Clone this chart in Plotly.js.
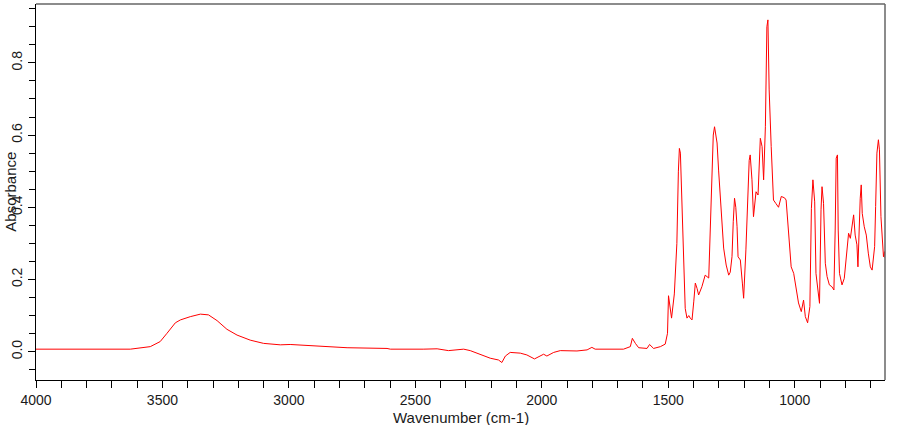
<!DOCTYPE html>
<html>
<head>
<meta charset="utf-8">
<script src="https://cdn.plot.ly/plotly-3.0.1.min.js"></script>
<style>html,body{margin:0;padding:0;background:#fff;}#chart{width:900px;height:425px;}</style>
</head>
<body>
<div id="chart"></div>
<script>
// Wavenumber (cm-1) and absorbance
const wavenumber = [4000,3904,3785,3627,3548,3509,3482,3449,3429,3390,3350,3318,3284,3245,3205,3153,3100,3034,2995,2902,2770,2612,2599,2469,2414,2369,2309,2283,2243,2204,2171,2158,2144,2125,2085,2059,2029,2006,1993,1980,1953,1927,1861,1821,1802,1789,1677,1650,1642,1630,1617,1584,1574,1558,1531,1512,1503,1499,1492,1487,1476,1466,1460,1456,1452,1446,1439,1433,1426,1419,1413,1406,1399,1393,1386,1380,1367,1354,1340,1334,1327,1322,1317,1307,1301,1290,1281,1271,1261,1255,1248,1243,1238,1233,1228,1224,1215,1207,1202,1193,1185,1180,1176,1169,1163,1153,1145,1136,1129,1123,1116,1110,1106,1101,1093,1084,1074,1064,1053,1040,1034,1027,1021,1014,1004,995,985,974,965,958,949,940,934,928,921,916,908,902,896,892,886,879,872,863,853,845,840,836,831,828,823,813,804,796,787,780,775,767,761,754,750,745,741,737,733,725,717,709,701,694,688,684,680,675,669,665,659,654,649,645,643];
const absorbance = [0.007,0.007,0.006,0.007,0.014,0.028,0.051,0.080,0.088,0.097,0.104,0.102,0.086,0.062,0.046,0.032,0.023,0.019,0.020,0.016,0.011,0.009,0.007,0.007,0.008,0.003,0.007,0.003,-0.007,-0.018,-0.023,-0.030,-0.012,-0.002,-0.004,-0.009,-0.020,-0.012,-0.007,-0.012,-0.002,0.003,0.002,0.005,0.012,0.007,0.007,0.014,0.037,0.023,0.011,0.009,0.020,0.009,0.014,0.021,0.051,0.155,0.121,0.093,0.160,0.300,0.500,0.563,0.550,0.420,0.263,0.120,0.093,0.100,0.093,0.088,0.140,0.190,0.175,0.157,0.180,0.212,0.204,0.350,0.512,0.600,0.623,0.578,0.503,0.365,0.287,0.240,0.212,0.220,0.263,0.360,0.425,0.400,0.346,0.263,0.254,0.190,0.148,0.282,0.476,0.530,0.545,0.476,0.374,0.443,0.434,0.591,0.568,0.476,0.623,0.900,0.919,0.725,0.568,0.420,0.410,0.400,0.430,0.426,0.420,0.346,0.282,0.235,0.217,0.171,0.135,0.111,0.143,0.097,0.080,0.125,0.397,0.476,0.415,0.217,0.162,0.134,0.393,0.457,0.411,0.245,0.208,0.185,0.180,0.171,0.337,0.536,0.545,0.337,0.217,0.185,0.203,0.254,0.328,0.314,0.346,0.379,0.323,0.296,0.235,0.379,0.425,0.462,0.383,0.346,0.323,0.273,0.235,0.226,0.273,0.291,0.402,0.550,0.587,0.559,0.374,0.309,0.263,0.277,0.260];
const xTitle = "Wavenumber (cm-1)";
const yTitle = "Absorbance";

const font = "Liberation Sans, Arial, sans-serif";
const trace = {
  x: wavenumber, y: absorbance, type: "scatter", mode: "lines",
  line: {color: "#ff0000", width: 1}, hoverinfo: "skip"
};
const layout = {
  width: 900, height: 425,
  margin: {l: 36, r: 15, t: 4, b: 45, pad: 0},
  paper_bgcolor: "#ffffff", plot_bgcolor: "#ffffff",
  showlegend: false,
  font: {family: font, size: 14, color: "#1a1a1a"},
  xaxis: {
    range: [4000, 643], autorange: false, automargin: false,
    tick0: 0, dtick: 500, ticks: "outside", ticklen: 7, tickcolor: "#000", tickwidth: 1,
    minor: {dtick: 100, ticks: "outside", ticklen: 7, tickcolor: "#000", tickwidth: 1, showgrid: false},
    showgrid: false, zeroline: false,
    showline: true, linecolor: "#000", linewidth: 1, mirror: false,
    tickfont: {family: font, size: 14, color: "#1a1a1a"}
  },
  yaxis: {
    range: [-0.0784, 0.963], autorange: false, automargin: false,
    tick0: 0, dtick: 0.2, tickformat: ".1f", ticks: "outside", ticklen: 7, tickcolor: "#000", tickwidth: 1,
    minor: {dtick: 0.05, ticks: "outside", ticklen: 6, tickcolor: "#000", tickwidth: 1, showgrid: false},
    tickangle: -90,
    showgrid: false, zeroline: false,
    showline: true, linecolor: "#000", linewidth: 1, mirror: false,
    tickfont: {family: font, size: 14, color: "#1a1a1a"}
  },
  shapes: [
    {type: "line", xref: "paper", yref: "paper", x0: 0, x1: 1, y0: 1, y1: 1, line: {color: "#666", width: 1.5}},
    {type: "line", xref: "paper", yref: "paper", x0: 1, x1: 1, y0: 0, y1: 1, line: {color: "#666", width: 1.5}}
  ],
  annotations: [
    {text: xTitle, xref: "paper", yref: "paper", x: 0.5, y: -0.1, xanchor: "center", yanchor: "middle",
     showarrow: false, font: {family: font, size: 15, color: "#1a1a1a"}},
    {text: yTitle, xref: "paper", yref: "paper", x: -0.031, y: 0.5, xanchor: "center", yanchor: "middle",
     textangle: -90, showarrow: false, font: {family: font, size: 15, color: "#1a1a1a"}}
  ]
};
Plotly.newPlot("chart", [trace], layout, {staticPlot: true, displayModeBar: false});
</script>
</body>
</html>
